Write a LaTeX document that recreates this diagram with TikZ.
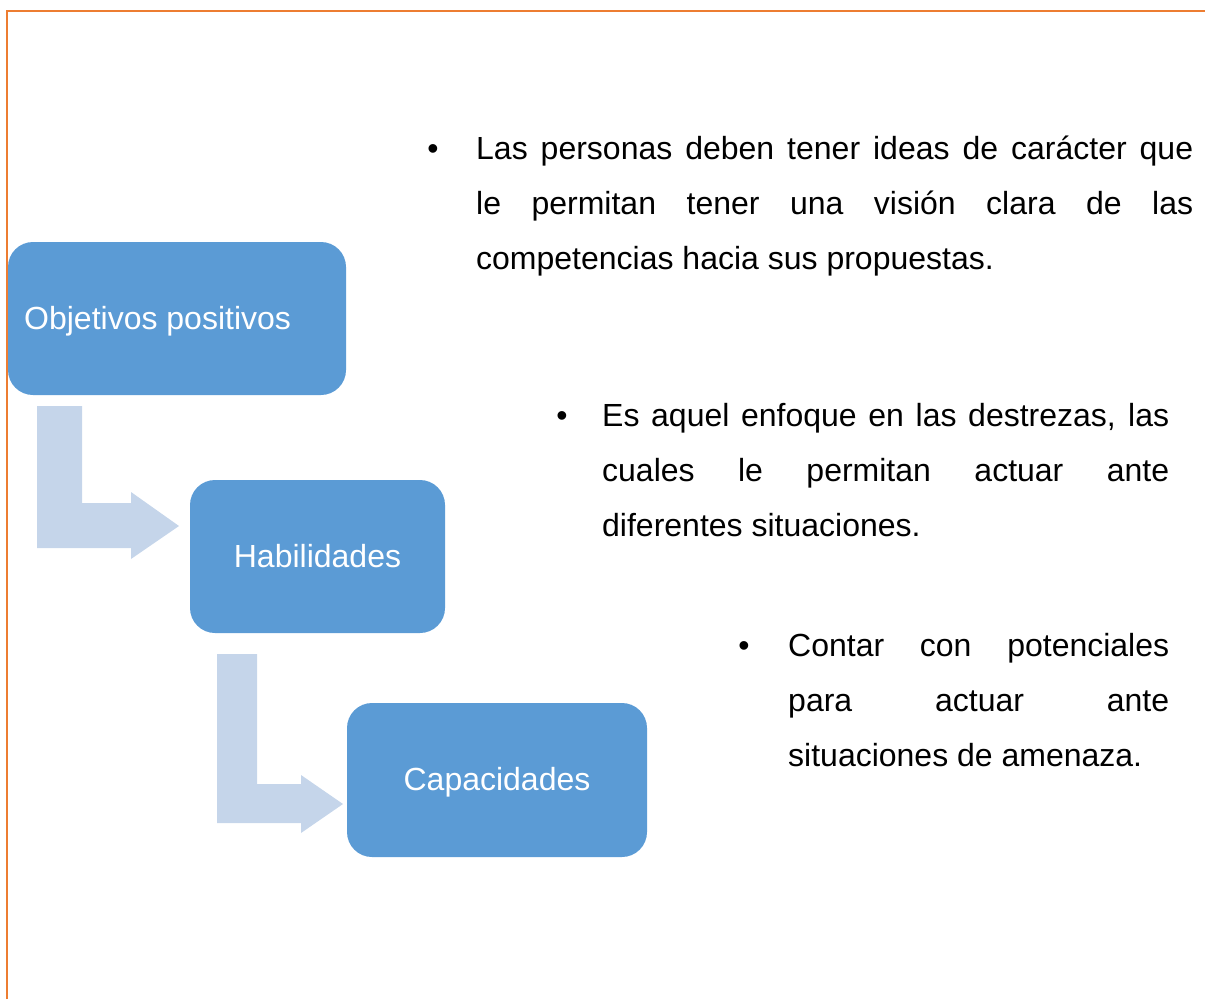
\documentclass[tikz,border=0pt]{standalone}
\usepackage{fontspec}
\setmainfont{Liberation Sans}
\usepackage{tikz}
\definecolor{marco}{HTML}{ED7D31}
\definecolor{caja}{HTML}{5B9BD5}
\definecolor{flecha}{HTML}{C5D5EA}
\tikzstyle{c}=[fill=caja,rounded corners=25pt,text=white,font=\fontsize{32}{38}\selectfont]
\tikzstyle{t}=[anchor=base west,inner sep=0,align=justify,font=\fontsize{32}{55}\selectfont]
\tikzstyle{p}=[anchor=base,inner sep=0,font=\fontsize{32}{55}\selectfont]
\tikzstyle{f}=[fill=flecha]

\begin{document}
\begin{tikzpicture}[x=1pt,y=-1pt]

                        \useasboundingbox (0,0) rectangle (1205,999);
                        \draw[marco,line width=1.8pt] (7,999) -- (7,11) -- (1205,11);

                        % cajas
                        \fill[c] (8,242) rectangle (346,395);
                        \fill[c] (190,480) rectangle (445,633);
                        \fill[c] (347,703) rectangle (647,857);
                        \node[c,fill=none,anchor=base west,inner sep=0] (a) at (24,329) {Objetivos positivos};
                        \node[c,fill=none,anchor=base,inner sep=0] (b) at (317.5,567) {Habilidades};
                        \node[c,fill=none,anchor=base,inner sep=0] (d) at (497,790) {Capacidades};

                        % flechas
                        \fill[f] (37,406) -- (82,406) -- (82,503) -- (131,503) -- (131,492)
                        -- (179,526) -- (131,559) -- (131,548) -- (37,548) -- cycle;
                        \fill[f] (217,654) -- (257,654) -- (257,784) -- (301,784) -- (301,775)
                        -- (343,804) -- (301,833) -- (301,823) -- (217,823) -- cycle;

                        % textos
                        \node[p] (p1) at (433,159) {\textbullet};
                        \node[t,text width=717pt] (t1) at (476,159)
                        {Las personas deben tener ideas de car\'acter que\linebreak
                        le permitan tener una visi\'on clara de las\linebreak
                        competencias hacia sus propuestas.};

                        \node[p] (p2) at (562,426) {\textbullet};
                        \node[t,text width=567pt] (t2) at (602,426)
                        {Es aquel enfoque en las destrezas, las\linebreak
                        cuales le permitan actuar ante\linebreak
                        diferentes situaciones.};

                        \node[p] (p3) at (744,656) {\textbullet};
                        \node[t,text width=381pt] (t3) at (788,656)
                        {Contar con potenciales\linebreak
                        para actuar ante\linebreak
                        situaciones de amenaza.};

\end{tikzpicture}
\end{document}
